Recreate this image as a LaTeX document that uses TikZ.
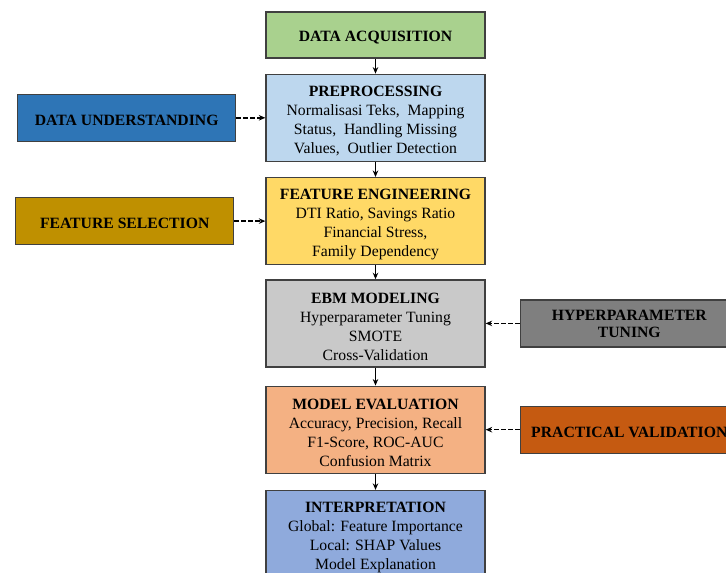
\documentclass[tikz,border=0pt]{standalone}
\usepackage{fontspec}
\setmainfont{Liberation Serif}
\usepackage{tikz}
\usetikzlibrary{arrows.meta,positioning}
\newcommand{\stagetitle}[1]{\rule{0pt}{16.5pt}\textbf{#1}}
\definecolor{acqgreen}{HTML}{A9D18E}
\definecolor{prepblue}{HTML}{BDD7EE}
\definecolor{featyellow}{HTML}{FFD966}
\definecolor{ebmgray}{HTML}{C9C9C9}
\definecolor{evalorange}{HTML}{F4B183}
\definecolor{interpblue}{HTML}{8FAADC}
\definecolor{undblue}{HTML}{2E75B6}
\definecolor{selgold}{HTML}{BF9000}
\definecolor{tungray}{HTML}{7F7F7F}
\definecolor{valorange}{HTML}{C55A11}
\definecolor{boxline}{HTML}{404040}

\begin{document}
\begin{tikzpicture}[x=1pt,y=-1pt,>={Stealth[length=6.5pt,width=5.5pt]},
  font=\fontsize{15.7}{19}\selectfont,
  stage/.style={draw=boxline,line width=1.3pt,minimum width=219pt,
    minimum height=87pt,align=center,inner sep=2pt},
  side/.style={draw=boxline,line width=1.3pt,minimum width=218pt,
    minimum height=47pt,align=center,font=\fontsize{15.7}{17}\selectfont\bfseries,
    execute at begin node={\rule{0pt}{15pt}}},
  flow/.style={->,line width=1.4pt},
  hint/.style={->,dashed,line width=1.4pt,dash pattern=on 4.5pt off 2.5pt}]
  \useasboundingbox (0,0) rectangle (726,573);
  \clip (0,0) rectangle (726,573);

  \node[stage,fill=acqgreen,minimum height=46pt] (acq) at (375.5,35)
    {\stagetitle{DATA ACQUISITION}};

  \node[stage,fill=prepblue,below=15pt of acq] (prep)
    {\stagetitle{PREPROCESSING}\\Normalisasi Teks,\ \ Mapping\\Status,\ \ Handling Missing\\Values,\ \ Outlier Detection};

  \node[stage,fill=featyellow,below=15pt of prep] (feat)
    {\stagetitle{FEATURE ENGINEERING}\\DTI Ratio, Savings Ratio\\Financial Stress,\\Family Dependency};

  \node[stage,fill=ebmgray,below=14pt of feat] (ebm)
    {\stagetitle{EBM MODELING}\\Hyperparameter Tuning\\SMOTE\\Cross-Validation};

  \node[stage,fill=evalorange,below=18pt of ebm] (eval)
    {\stagetitle{MODEL EVALUATION}\\Accuracy, Precision, Recall\\F1-Score, ROC-AUC\\Confusion Matrix};

  \node[stage,fill=interpblue,below=16pt of eval] (interp)
    {\stagetitle{INTERPRETATION}\\Global: Feature Importance\\Local: SHAP Values\\Model Explanation};

  % side inputs
  \node[side,fill=undblue,left=29pt of prep] (und) {DATA UNDERSTANDING};
  \node[side,fill=selgold,left=31pt of feat] (sel) {FEATURE SELECTION};
  \node[side,fill=tungray,right=34pt of ebm] (tun) {HYPERPARAMETER\\TUNING};
  \node[side,fill=valorange,right=34pt of eval] (val) {PRACTICAL VALIDATION};

  \draw[flow] (acq) -- (prep);
  \draw[flow] (prep) -- (feat);
  \draw[flow] (feat) -- (ebm);
  \draw[flow] (ebm) -- (eval);
  \draw[flow] (eval) -- (interp);

  \draw[hint] (und) -- (prep);
  \draw[hint] (sel) -- (feat);
  \draw[hint] (tun) -- (ebm);
  \draw[hint] (val) -- (eval);
\end{tikzpicture}
\end{document}
